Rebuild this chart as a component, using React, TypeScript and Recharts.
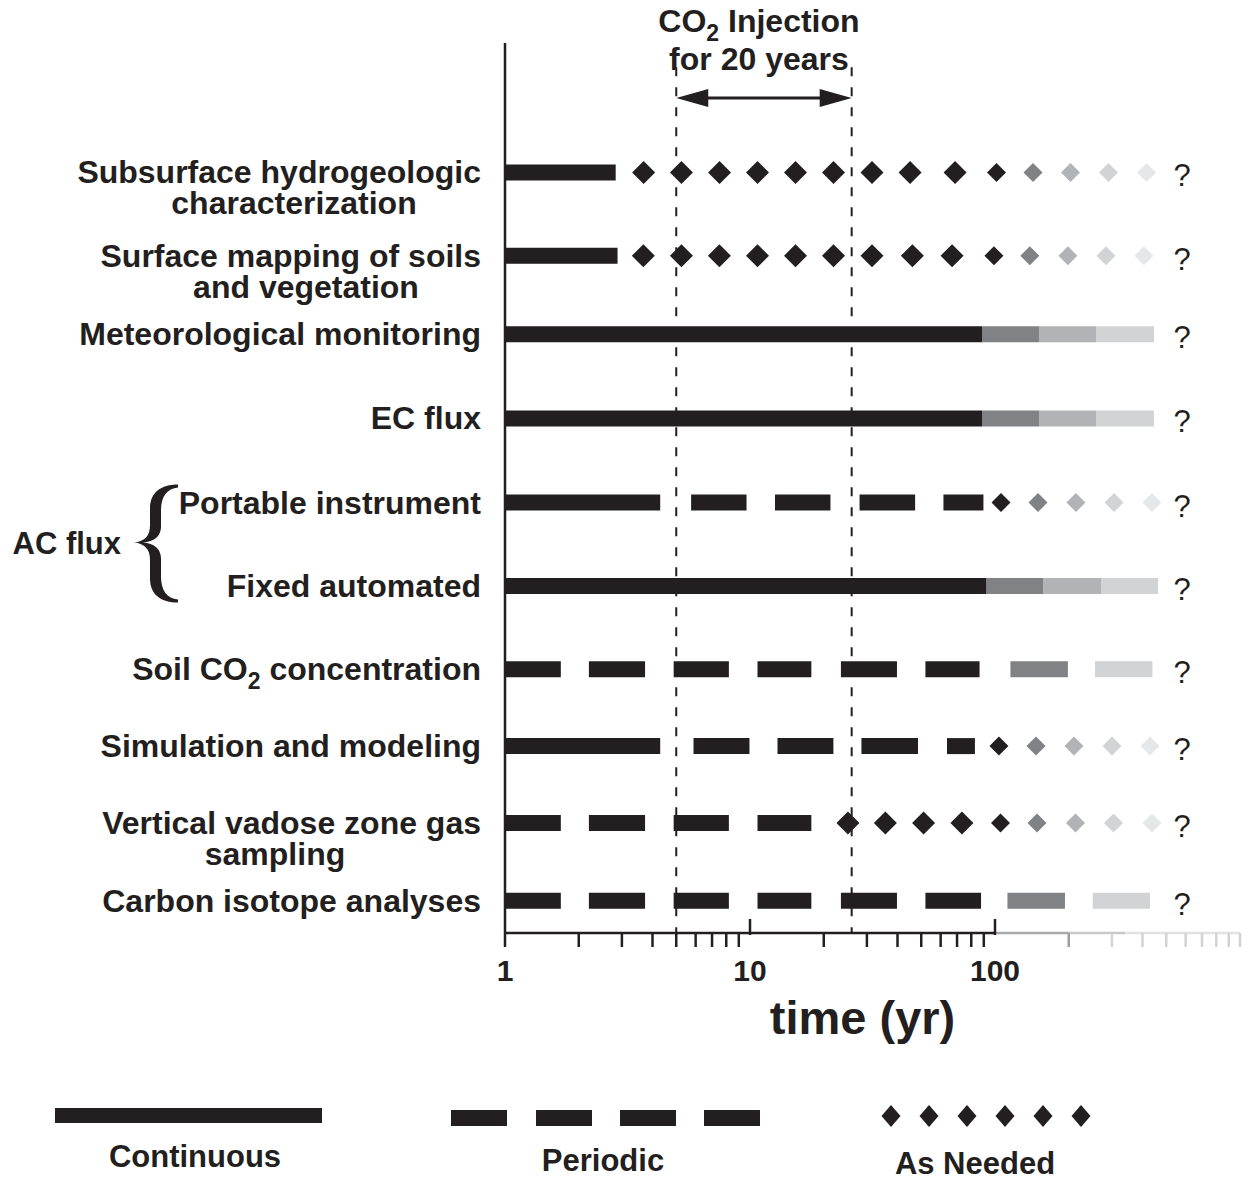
import React from 'react';
import { ComposedChart, Line, Scatter, XAxis, YAxis, ReferenceLine, Legend } from 'recharts';

const INK = '#231f20';
const SHADES = [INK, '#808285', '#b1b3b6', '#d1d3d4', '#e6e7e8'];
const FONT = '"Liberation Sans", Arial, Helvetica, sans-serif';

// rows, top to bottom
const rowLabels = [
  ['Subsurface hydrogeologic', 'characterization'],
  ['Surface mapping of soils', 'and vegetation'],
  ['Meteorological monitoring'],
  ['EC flux'],
  ['Portable instrument'],
  ['Fixed automated'],
  ['Soil CO2 concentration'],
  ['Simulation and modeling'],
  ['Vertical vadose zone gas', 'sampling'],
  ['Carbon isotope analyses'],
];
const rowPos = [1, 2.03, 3, 4.04, 5.08, 6.11, 7.14, 8.09, 9.04, 10];

// bar pieces per row: [start yr, end yr, shade]
const segSubsurface = [[1, 2.83, 0]];
const segSurface = [[1, 2.88, 0]];
const segMeteo = [[1, 88.5, 0], [88.5, 151.2, 1], [151.2, 258.4, 2], [258.4, 445.6, 3]];
const segEC = [[1, 88.5, 0], [88.5, 151.2, 1], [151.2, 258.4, 2], [258.4, 445.6, 3]];
const segPortable = [[1, 4.3, 0], [5.75, 9.68, 0], [12.65, 21.3, 0], [28, 47.2, 0], [61.6, 89.7, 0]];
const segFixed = [[1, 92.4, 0], [92.4, 157.8, 1], [157.8, 270.8, 2], [270.8, 462.7, 3]];
const segSoil = [[1, 1.69, 0], [2.2, 3.73, 0], [4.88, 8.2, 0], [10.73, 17.8, 0], [23.5, 39.8, 0], [52, 86.5, 0], [115.6, 198.4, 1], [256, 439, 3]];
const segSimulation = [[1, 4.3, 0], [5.88, 9.95, 0], [12.95, 21.9, 0], [28.5, 48.5, 0], [63.7, 82.8, 0]];
const segVadose = [[1, 1.69, 0], [2.2, 3.73, 0], [4.88, 8.2, 0], [10.73, 17.8, 0]];
const segIsotope = [[1, 1.69, 0], [2.2, 3.73, 0], [4.88, 8.2, 0], [10.73, 17.8, 0], [23.5, 39.8, 0], [52, 87.7, 0], [112.4, 193, 1], [250.5, 429.2, 3]];

// "as needed" diamonds per row: [yr, shade]
const dmdSubsurface = [[3.68, 0], [5.25, 0], [7.51, 0], [10.73, 0], [15.34, 0], [21.92, 0], [31.47, 0], [45, 0], [68.7, 0], [101.4, 0], [142.9, 1], [203.3, 2], [290.6, 3], [415.3, 4]];
const dmdSurface = [[3.67, 0], [5.25, 0], [7.5, 0], [10.73, 0], [15.34, 0], [21.92, 0], [31.47, 0], [46, 0], [66.8, 0], [99, 0], [138.7, 1], [198.4, 2], [283.8, 3], [405.5, 4]];
const dmdPortable = [[105.8, 0], [149.8, 1], [214, 2], [306, 3], [437, 4]];
const dmdSimulation = [[103.8, 0], [147, 1], [210, 2], [300.3, 3], [429.2, 4]];
const dmdVadose = [[25.1, 0], [35.7, 0], [51.1, 0], [73.3, 0], [105.3, 0], [148.4, 1], [213.1, 2], [304.6, 3], [437.3, 4]];

const rowSegments = [segSubsurface, segSurface, segMeteo, segEC, segPortable, segFixed, segSoil, segSimulation, segVadose, segIsotope];
const rowDiamonds = [dmdSubsurface, dmdSurface, [], [], dmdPortable, [], [], dmdSimulation, dmdVadose, []];

const injectionStart = 5;
const injectionEnd = 26;
const qMarkX = 580;

const xTicks = [1, 2, 3, 4, 5, 6, 7, 8, 9, 10, 20, 30, 40, 50, 60, 70, 80, 90, 100, 200, 300, 400, 500, 600, 700, 800, 900, 1000];
const xLabels = [1, 10, 100];
const axisPieces = [[1, 100, INK], [100, 200, '#a7a9ac'], [200, 340, '#c7c8ca'], [340, 1000, '#e1e2e3']];

const legendLabels = ['Continuous', 'Periodic', 'As Needed'];

const LINE2_CENTER: Record<number, number> = { 0: 294, 1: 306, 8: 275 };

function withSub(s: string, size: number) {
  const k = s.indexOf('CO2');
  if (k < 0) return s;
  return [
    <tspan key="a">{s.slice(0, k + 2)}</tspan>,
    <tspan key="b" dy={size * 0.28} fontSize={size * 0.72}>2</tspan>,
    <tspan key="c" dy={-size * 0.28}>{s.slice(k + 3)}</tspan>,
  ];
}

const AcBrace = ({ y }: { y: number }) => {
  const t = y - 18;
  const m = y + 40;
  const b = y + 100;
  const d = `M 178 ${t} C 161 ${t} 150 ${t + 8} 150 ${t + 24} L 150 ${m - 17} C 150 ${m - 7} 145 ${m - 1} 134 ${m}
    C 145 ${m + 1} 150 ${m + 7} 150 ${m + 17} L 150 ${b - 24} C 150 ${b - 8} 161 ${b} 178 ${b}
    L 178 ${b - 3} C 167 ${b - 4} 161 ${b - 12} 161 ${b - 26} L 161 ${m + 16} C 161 ${m + 6} 154 ${m + 1} 143 ${m}
    C 154 ${m - 1} 161 ${m - 6} 161 ${m - 16} L 161 ${t + 26} C 161 ${t + 12} 167 ${t + 4} 178 ${t + 3} Z`;
  return (
    <g>
      <path d={d} fill={INK} />
      <text x={121} y={m + 11} textAnchor="end" fontSize={31}>AC flux</text>
    </g>
  );
};

const RowTick = (props: any) => {
  const { x, y, payload } = props;
  const i = rowPos.indexOf(payload.value);
  if (i < 0) return null;
  const [first, second] = rowLabels[i];
  return (
    <g fontFamily={FONT} fontWeight="bold" fontSize={32} fill={INK}>
      <text x={x - 24} y={y + 11} textAnchor="end">{withSub(first, 32)}</text>
      {second && <text x={LINE2_CENTER[i]} y={y + 42} textAnchor="middle">{second}</text>}
      {i === 4 && <AcBrace y={y} />}
    </g>
  );
};

const tickShade = (v: number) => (v <= 100 ? INK : v <= 200 ? '#9d9fa2' : '#d1d3d4');

const TimeTick = (props: any) => {
  const { x, y, payload } = props;
  const v = payload.value;
  const up = v === 10 || v === 100;
  return (
    <g>
      <line x1={x} x2={x} y1={up ? y - 14 : y} y2={up ? y + 2 : y + 14} stroke={tickShade(v)} strokeWidth={2.5} />
      {xLabels.includes(v) && (
        <text x={x} y={y + 48} textAnchor="middle" fontFamily={FONT} fontWeight="bold" fontSize={30} fill={INK}>{v}</text>
      )}
    </g>
  );
};

const TimeTitle = (props: any) => {
  const vb = props.viewBox || { x: 505, y: 933, width: 735 };
  return (
    <text x={vb.x + vb.width / 2 - 10} y={vb.y + 101} textAnchor="middle" fontFamily={FONT} fontWeight="bold" fontSize={47} fill={INK}>
      time (yr)
    </text>
  );
};

const InjectionArrow = (props: any) => {
  const { x1, y1, x2 } = props;
  const head = 32;
  const half = 9;
  const mid = (x1 + x2) / 2 - 5;
  return (
    <g>
      <g fontFamily={FONT} fontWeight="bold" fontSize={32} fill={INK} textAnchor="middle">
        <text x={mid} y={y1 - 66}>{withSub('CO2 Injection', 32)}</text>
        <text x={mid} y={y1 - 28}>for 20 years</text>
      </g>
      <line x1={x1 + head - 2} x2={x2 - head + 2} y1={y1} y2={y1} stroke={INK} strokeWidth={3} />
      <polygon points={`${x1},${y1} ${x1 + head},${y1 - half} ${x1 + head},${y1 + half}`} fill={INK} />
      <polygon points={`${x2},${y1} ${x2 - head},${y1 - half} ${x2 - head},${y1 + half}`} fill={INK} />
    </g>
  );
};

const Diamond = (props: any) => {
  const { cx, cy, payload } = props;
  const r = payload.shade > 0 || payload.x >= 95 ? 9.5 : 11.5;
  return <polygon points={`${cx},${cy - r} ${cx + r},${cy} ${cx},${cy + r} ${cx - r},${cy}`} fill={SHADES[payload.shade]} />;
};

const QMark = (props: any) => (
  <text x={props.cx} y={props.cy + 14} textAnchor="middle" fontFamily={FONT} fontSize={31} fill={INK}>?</text>
);

const LegendKey = () => (
  <svg width={1248} height={91} style={{ display: 'block' }}>
    <rect x={55} y={18} width={267} height={15} fill={INK} />
    {[451, 536, 620, 704].map((x) => (
      <rect key={x} x={x} y={20} width={56} height={16} fill={INK} />
    ))}
    {[891, 929, 967, 1005, 1043, 1081].map((x) => (
      <polygon key={x} points={`${x},15 ${x + 9.5},26 ${x},37 ${x - 9.5},26`} fill={INK} />
    ))}
    <g fontFamily={FONT} fontWeight="bold" fontSize={31} fill={INK} textAnchor="middle">
      <text x={195} y={77}>{legendLabels[0]}</text>
      <text x={603} y={81}>{legendLabels[1]}</text>
      <text x={975} y={84}>{legendLabels[2]}</text>
    </g>
  </svg>
);

export default function App() {
  return (
    <div style={{ position: 'absolute', left: 0, top: 0, background: '#fff' }}>
      <ComposedChart width={1248} height={1181} margin={{ top: 43, right: 8, bottom: 148, left: 0 }}>
        <XAxis
          type="number"
          dataKey="x"
          scale="log"
          domain={[1, 1000]}
          ticks={xTicks}
          interval={0}
          tickSize={0}
          tickMargin={0}
          axisLine={false}
          tickLine={false}
          tick={(p: any) => <TimeTick {...p} />}
          height={100}
          label={<TimeTitle />}
        />
        <YAxis
          type="number"
          dataKey="y"
          domain={[-0.6, 10.4]}
          reversed
          ticks={rowPos}
          interval={0}
          width={505}
          tickSize={0}
          tickMargin={0}
          tickLine={false}
          axisLine={{ stroke: INK, strokeWidth: 2.5 }}
          tick={(p: any) => <RowTick {...p} />}
        />
        {axisPieces.map(([a, b, c]) => (
          <ReferenceLine
            key={`ax${a}`}
            segment={[{ x: a as number, y: 10.4 }, { x: b as number, y: 10.4 }]}
            stroke={c as string}
            strokeWidth={2.5}
          />
        ))}
        {[injectionStart, injectionEnd].map((v) => (
          <ReferenceLine
            key={`inj${v}`}
            segment={[{ x: v, y: -0.3 }, { x: v, y: 10.4 }]}
            stroke={INK}
            strokeWidth={2}
            strokeDasharray="9 11"
          />
        ))}
        <ReferenceLine
          segment={[{ x: injectionStart, y: 0.08 }, { x: injectionEnd, y: 0.08 }]}
          shape={(p: any) => <InjectionArrow {...p} />}
        />
        {rowSegments.flatMap((segs, r) =>
          segs.map(([a, b, s], k) => (
            <Line
              key={`s${r}-${k}`}
              data={[{ x: a, y: rowPos[r] }, { x: b, y: rowPos[r] }]}
              dataKey="y"
              stroke={SHADES[s]}
              strokeWidth={16}
              dot={false}
              activeDot={false}
              legendType="none"
              isAnimationActive={false}
            />
          ))
        )}
        {rowDiamonds.map((d, r) =>
          d.length ? (
            <Scatter
              key={`d${r}`}
              data={d.map(([x, s]) => ({ x, y: rowPos[r], shade: s }))}
              shape={(p: any) => <Diamond {...p} />}
              legendType="none"
              isAnimationActive={false}
            />
          ) : null
        )}
        <Scatter
          data={rowPos.map((y) => ({ x: qMarkX, y }))}
          shape={(p: any) => <QMark {...p} />}
          legendType="none"
          isAnimationActive={false}
        />
        <Legend
          layout="horizontal"
          verticalAlign="middle"
          align="center"
          wrapperStyle={{ position: 'absolute', top: 1090, left: 0, width: 1248, height: 91 }}
          content={() => <LegendKey />}
        />
      </ComposedChart>
    </div>
  );
}
